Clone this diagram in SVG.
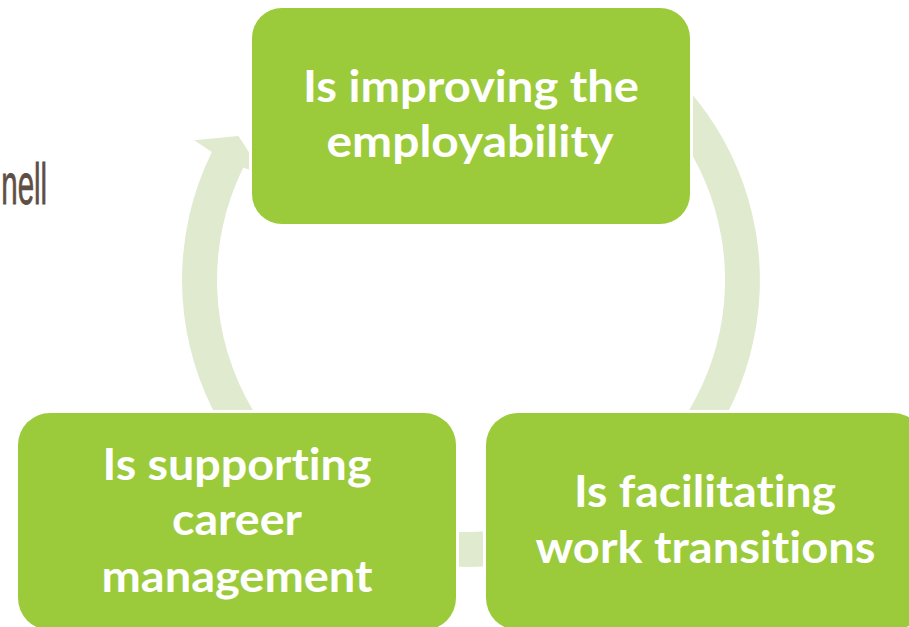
<svg xmlns="http://www.w3.org/2000/svg" width="909" height="627" viewBox="0 0 909 627">
<style>
.box{fill:#9bcb3b;stroke:#ffffff;stroke-width:6;paint-order:stroke}
.arc{fill:#dfeacf}
.lbl{font-family:Lato,"Open Sans","Liberation Sans",sans-serif;font-weight:700;font-size:44px;fill:#ffffff;text-anchor:middle;font-variant-ligatures:none;font-feature-settings:"liga" 0,"clig" 0}
.side{font-family:"Liberation Sans",Arial,sans-serif;font-size:57px;fill:#5e4e45;stroke:#5e4e45;stroke-width:0.8}
</style>
<rect width="909" height="627" fill="#ffffff"/>
<text class="side" x="2" y="204" transform="scale(0.62,1)" textLength="74" lengthAdjust="spacingAndGlyphs">nell</text>
<g id="connectors">
  <path class="arc" d="M213,410 A289,289 0 0 1 211.9,151.9 L194.3,140.2 L238.5,136 L263.9,175.4 L243.3,167.5 A254,254 0 0 0 252.8,410 Z"/>
  <path class="arc" d="M615.5,30 A289,289 0 0 1 692.4,465.8 L665.6,443.3 A254,254 0 0 0 598,60 Z"/>
  <path class="arc" d="M521.2,562.6 A287,287 0 0 1 420.8,562.6 L427,528.2 A252,252 0 0 0 515,528.2 Z"/>
</g>
<g id="node-top">
  <rect class="box" x="252" y="8" width="438" height="216" rx="30" ry="30"/>
  <text class="lbl" x="471" y="102" textLength="336" lengthAdjust="spacingAndGlyphs">Is improving the</text>
  <text class="lbl" x="470" y="157" textLength="287" lengthAdjust="spacingAndGlyphs">employability</text>
</g>
<g id="node-left">
  <rect class="box" x="18" y="413" width="438" height="217" rx="32" ry="32"/>
  <text class="lbl" x="237" y="480" textLength="269" lengthAdjust="spacingAndGlyphs">Is supporting</text>
  <text class="lbl" x="237" y="535" textLength="130" lengthAdjust="spacingAndGlyphs">career</text>
  <text class="lbl" x="237" y="592" textLength="271" lengthAdjust="spacingAndGlyphs">management</text>
</g>
<g id="node-right">
  <rect class="box" x="486" y="413" width="439" height="217" rx="32" ry="32"/>
  <text class="lbl" x="705" y="507" textLength="262" lengthAdjust="spacingAndGlyphs">Is facilitating</text>
  <text class="lbl" x="705.5" y="563" textLength="340" lengthAdjust="spacingAndGlyphs">work transitions</text>
</g>
</svg>
